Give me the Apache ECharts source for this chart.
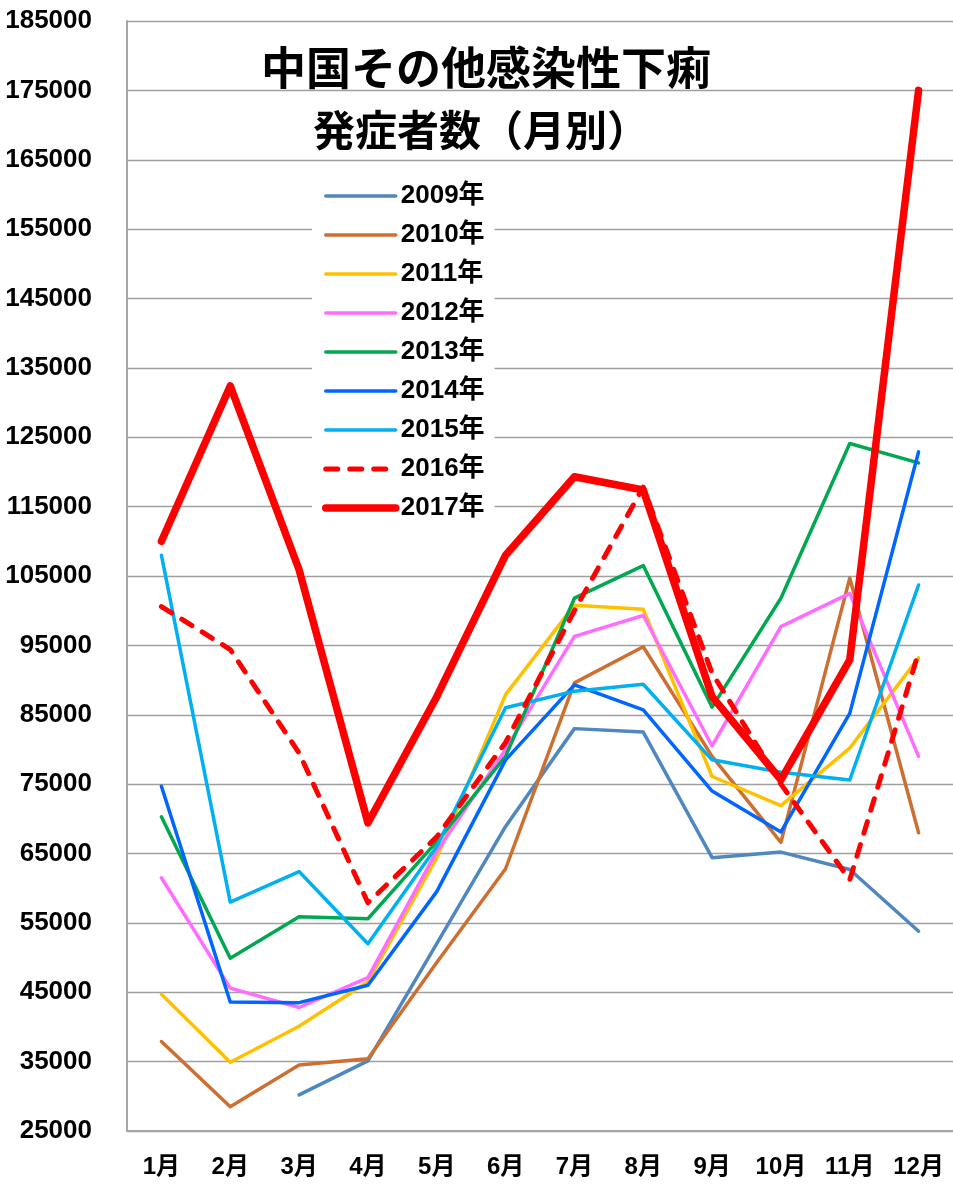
<!DOCTYPE html>
<html>
<head>
<meta charset="utf-8">
<script src="https://cdn.jsdelivr.net/npm/echarts@6/dist/echarts.min.js"></script>
<style>
  html, body { margin: 0; padding: 0; background: #fff; }
  #main { width: 953px; height: 1185px; }
</style>
</head>
<body>
<div id="main"></div>
<script>
var months = ['1月', '2月', '3月', '4月', '5月', '6月', '7月', '8月', '9月', '10月', '11月', '12月'];

var d2009 = [null, null, 30200, 35100, 52000, 68900, 83000, 82500, 64400, 65200, 62700, 53800];
var d2010 = [37900, 28500, 34500, 35400, 49300, 62800, 89600, 94800, 79000, 66600, 104700, 68000];
var d2011 = [44700, 34900, 40100, 46500, 64400, 87900, 100800, 100200, 76100, 71900, 80200, 93200];
var d2012 = [61500, 45600, 42800, 47100, 65300, 80000, 96300, 99300, 80500, 97700, 102500, 79000];
var d2013 = [70300, 49900, 55900, 55600, 66700, 79000, 101800, 106500, 86100, 101800, 124100, 121300];
var d2014 = [74700, 43600, 43500, 46000, 59500, 78500, 89300, 85700, 74000, 68100, 85200, 122900];
var d2015 = [108000, 58000, 62400, 52000, 66000, 86000, 88400, 89400, 78500, 76700, 75600, 103700];
var d2016 = [100600, 94400, 79500, 57900, 67400, 81000, 100000, 117800, 91000, 75000, 61200, 94000];
var d2017 = [110000, 132400, 105900, 69400, 87600, 108000, 119300, 117400, 87600, 75600, 92900, 175000];

var yMin = 25000, yMax = 185000, yStep = 10000;

var labelFont = "'Liberation Sans', 'Noto Sans CJK JP', sans-serif";
var titleFont = "'Noto Sans CJK JP', sans-serif";

function line(name, data, color, width, dashed) {
  return {
    name: name,
    type: 'line',
    data: data,
    symbol: 'none',
    lineStyle: {
      color: color,
      width: width,
      type: dashed ? [12, 12] : 'solid',
      cap: 'round',
      join: 'round'
    },
    itemStyle: { color: color }
  };
}

var chart = echarts.init(document.getElementById('main'));

var option = {
  animation: false,
  backgroundColor: '#fff',
  title: [
    {
      text: '中国その他感染性下痢',
      left: 481,
      top: 40,
      textAlign: 'center',
      textStyle: { fontFamily: titleFont, fontSize: 45, fontWeight: 'bold', color: '#000' }
    },
    {
      text: '発症者数（月別）',
      left: 476,
      top: 104,
      textAlign: 'center',
      textStyle: { fontFamily: titleFont, fontSize: 42, fontWeight: 'bold', color: '#000' }
    }
  ],
  legend: {
    orient: 'vertical',
    left: 312,
    top: 175,
    padding: [8, 10, 8, 10],
    backgroundColor: '#fff',
    itemWidth: 70,
    itemHeight: 14,
    itemGap: 13,
    itemStyle: { opacity: 0 },
    lineStyle: { width: 'inherit' },
    textStyle: { fontFamily: labelFont, fontSize: 26, fontWeight: 'bold', color: '#000', lineHeight: 26 }
  },
  grid: { left: 127, right: 0, top: 21, bottom: 54 },
  xAxis: {
    type: 'category',
    data: months,
    boundaryGap: true,
    axisLine: { lineStyle: { color: '#a6a6a6', width: 2 } },
    axisTick: { show: false },
    axisLabel: { margin: 24, fontFamily: labelFont, fontSize: 24, fontWeight: 'bold', color: '#000' }
  },
  yAxis: {
    type: 'value',
    min: yMin,
    max: yMax,
    interval: yStep,
    axisLine: { show: true, lineStyle: { color: '#a6a6a6', width: 2 } },
    axisTick: { show: false },
    splitLine: { lineStyle: { color: '#a0a0a0', width: 1.3 } },
    axisLabel: {
      margin: 35,
      fontFamily: labelFont,
      fontSize: 26,
      fontWeight: 'bold',
      color: '#000',
      formatter: function (v) { return String(v); }
    }
  },
  series: [
    line('2009年', d2009, '#4f87c0', 3.5),
    line('2010年', d2010, '#cc6f30', 3.5),
    line('2011年', d2011, '#ffc000', 3.5),
    line('2012年', d2012, '#ff6cff', 3.5),
    line('2013年', d2013, '#00a84f', 3.5),
    line('2014年', d2014, '#0066ff', 3.5),
    line('2015年', d2015, '#00b0f0', 3.5),
    line('2016年', d2016, '#ff0000', 5, true),
    line('2017年', d2017, '#ff0000', 7.5)
  ]
};

chart.setOption(option);
window.addEventListener('resize', function () {
  chart.resize();
});
</script>
</body>
</html>
